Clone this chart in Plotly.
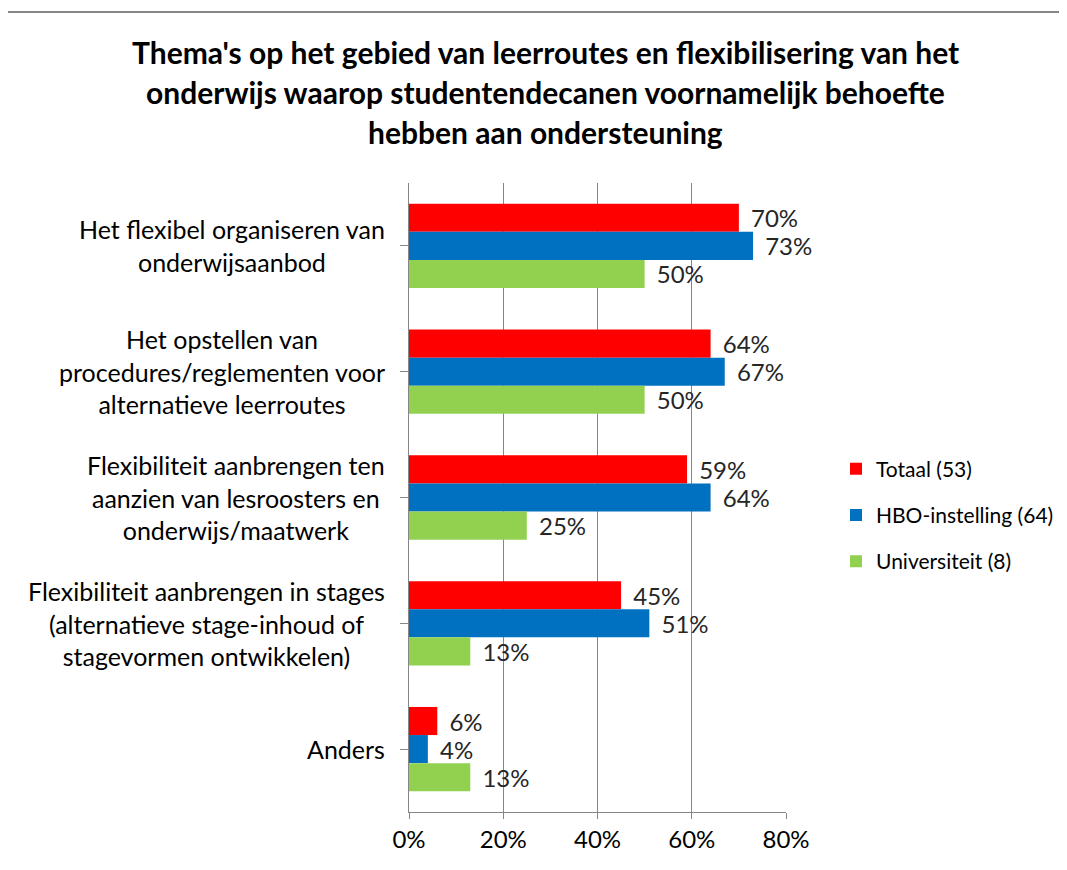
import plotly.graph_objects as go

categories = [
    "Het flexibel organiseren van<br>onderwijsaanbod",
    "Het opstellen van<br>procedures/reglementen voor<br>alternatieve leerroutes",
    "Flexibiliteit aanbrengen ten<br>aanzien van lesroosters en<br>onderwijs/maatwerk",
    "Flexibiliteit aanbrengen in stages<br>(alternatieve stage-inhoud of<br>stagevormen ontwikkelen)",
    "Anders",
]
totaal = [70, 64, 59, 45, 6]
hbo = [73, 67, 64, 51, 4]
universiteit = [50, 50, 25, 13, 13]
series_names = ["Totaal (53)", "HBO-instelling (64)", "Universiteit (8)"]
colors = ["#FF0000", "#0070C0", "#92D050"]
title_lines = [
    "Thema's op het gebied van leerroutes en flexibilisering van het",
    "onderwijs waarop studentendecanen voornamelijk behoefte",
    "hebben aan ondersteuning",
]
x_ticks = [0, 20, 40, 60, 80]

FONT = "Lato"
OFF = 8  # default page body margin
W, H = 1067 - 2 * OFF, 870 - 2 * OFF
L, R, T, B = 409 - OFF, 786 - OFF, 183 - OFF, 812 - OFF

fig = go.Figure()
idx = list(range(len(categories)))
for name, vals, col in zip(series_names, [totaal, hbo, universiteit], colors):
    fig.add_trace(go.Bar(
        y=idx, x=vals, name=name, orientation="h",
        marker=dict(color=col, line=dict(width=0)),
        text=["\u00a0\u2009" + f"{v}%" for v in vals],
        textposition="outside", constraintext="none", cliponaxis=False,
        textfont=dict(family=FONT, size=24, color="#262626"),
        legendgroup=name,
        hoverinfo="skip",
    ))

pw, ph = R - L, B - T
def px2x(px): return (px - OFF - L) / pw
def py2y(py): return (B - (py - OFF)) / ph

annotations = []
for i, c in enumerate(categories):
    annotations.append(dict(
        x=px2x(387), xref="paper", y=i, yref="y", text=c, showarrow=False,
        xanchor="right", yanchor="middle", align="center",
        font=dict(family=FONT, size=25, color="#000000"),
    ))
for j, line in enumerate(title_lines):
    annotations.append(dict(
        x=px2x(545), xref="paper", y=py2y(52 + 40 * j), yref="paper",
        text="<b>" + line + "</b>", showarrow=False,
        xanchor="center", yanchor="middle",
        font=dict(family=FONT, size=30, color="#000000"),
    ))

fig.update_layout(
    width=W, height=H,
    margin=dict(l=L, r=W - R, t=T, b=H - B, autoexpand=False),
    paper_bgcolor="white", plot_bgcolor="white",
    barmode="group", bargap=0.33, bargroupgap=0,
    showlegend=True,
    legend=dict(
        x=px2x(836), y=py2y(515), xanchor="left", yanchor="middle",
        font=dict(family=FONT, size=21, color="#000000"),
        tracegroupgap=16, traceorder="grouped", itemwidth=30,
    ),
    xaxis=dict(
        range=[0, 80], tickvals=x_ticks, ticktext=[f"{v}%" for v in x_ticks],
        showgrid=True, gridcolor="#868686", gridwidth=1,
        showline=True, linecolor="#868686", linewidth=1,
        ticks="outside", ticklen=6, tickcolor="#868686",
        tickfont=dict(family=FONT, size=24, color="#000000"),
        zeroline=False, fixedrange=True,
    ),
    yaxis=dict(
        range=[4.5, -0.5], tickvals=idx, showticklabels=False,
        tickson="boundaries", ticks="outside", ticklen=8, tickcolor="#868686",
        showline=True, linecolor="#868686", linewidth=1,
        showgrid=False, zeroline=False, fixedrange=True,
    ),
    annotations=annotations,
    shapes=[dict(
        type="rect", xref="paper", yref="paper",
        x0=px2x(5), x1=px2x(1200), y0=py2y(1000), y1=py2y(12),
        line=dict(color="#868686", width=2), fillcolor="rgba(0,0,0,0)",
        layer="below",
    )],
)

fig.write_html("out.html")
